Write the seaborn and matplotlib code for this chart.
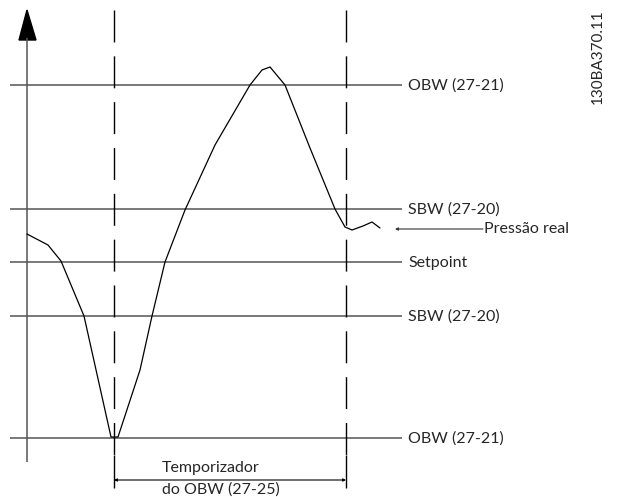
import numpy as np
import pandas as pd
import matplotlib
matplotlib.use("Agg")
import matplotlib.pyplot as plt
import seaborn as sns

# Pressure curve (time, pressure) in drawing units
curve_t = [27, 48, 61, 84, 111, 118, 140, 152, 165, 185, 215, 250, 262, 270, 285, 310, 335, 345, 352, 363, 372, 380]
curve_p = [234, 245, 261, 316, 437, 437, 370, 316, 262, 210, 145, 85, 70, 67, 85, 148, 209, 227, 230, 226, 222, 228]

# Horizontal reference levels
level_names = ["OBW (27-21)", "SBW (27-20)", "Setpoint", "SBW (27-20)", "OBW (27-21)"]
level_values = [85, 209, 262, 316, 438]

# Timer boundaries (dashed verticals)
timer_t = [114, 346]
timer_lines = ["Temporizador", "do OBW (27-25)"]
actual_label = "Pressão real"
drawing_id = "130BA370.11"


def main():
    sns.set_theme(style="white")
    plt.rcParams["font.family"] = ["Lato", "DejaVu Sans"]

    fig = plt.figure(figsize=(6.22, 4.97), dpi=100)
    ax = fig.add_axes([0, 0, 1, 1])
    ax.set_xlim(0, 622)
    ax.set_ylim(497, 0)
    ax.axis("off")

    fs = 11.5

    # reference levels
    for name, v in zip(level_names, level_values):
        ax.hlines(v, 10, 402, color="#555555", lw=1.1)
        ax.text(408, v + 1, name, fontsize=fs, va="center", ha="left")

    # y axis with arrow
    ax.vlines(27, 38, 462, color="#555555", lw=1.1)
    ax.fill([27, 19, 36], [10, 40, 40], color="black")

    # dashed timer lines
    for t in timer_t:
        ax.vlines(t, 10, 462, color="black", lw=1.0, linestyles=(0, (23, 10)))
        ax.vlines(t, 455, 488, color="black", lw=1.0)
    ax.annotate("", xy=(timer_t[0], 480), xytext=(timer_t[1], 480),
                arrowprops=dict(arrowstyle="<|-|>", color="black", lw=0.8,
                                mutation_scale=4, shrinkA=0, shrinkB=0))
    ax.text(162, 468, timer_lines[0], fontsize=fs, ha="left", va="center")
    ax.text(162, 490, timer_lines[1], fontsize=fs, ha="left", va="center")

    # actual pressure curve
    df = pd.DataFrame({"t": curve_t, "p": curve_p})
    sns.lineplot(data=df, x="t", y="p", sort=False, color="black", lw=0.9, ax=ax)
    ax.set_xlim(0, 622)
    ax.set_ylim(497, 0)

    # pressure label leader
    ax.annotate("", xy=(395, 229), xytext=(483, 229),
                arrowprops=dict(arrowstyle="-|>", color="#333333", lw=0.8,
                                mutation_scale=4, shrinkA=0, shrinkB=0))
    ax.text(484, 229, actual_label, fontsize=fs, va="center", ha="left")

    ax.text(598, 57, drawing_id, fontsize=11, rotation=90, ha="center", va="center")

    fig.savefig("out.png", dpi=100)
    plt.close(fig)


if __name__ == "__main__":
    main()
